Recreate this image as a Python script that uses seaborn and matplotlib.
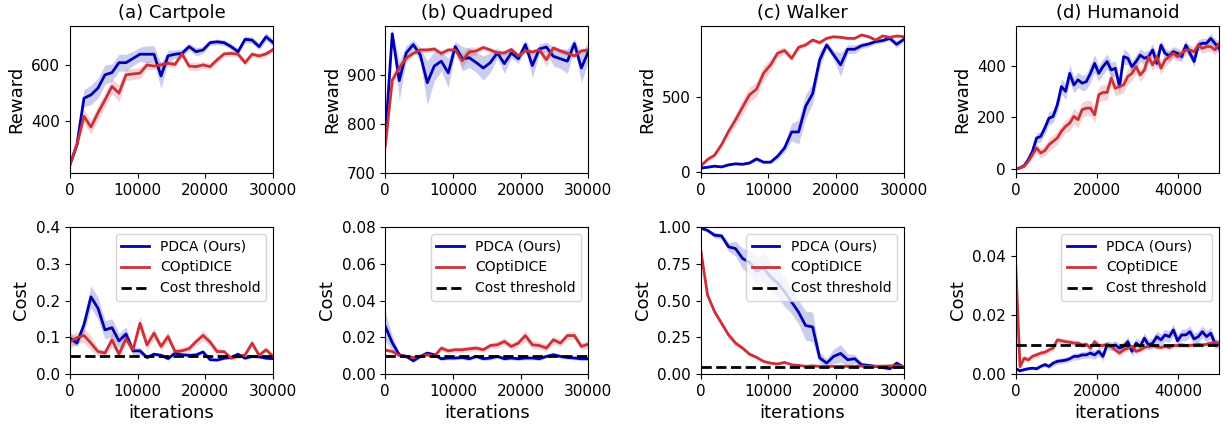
import numpy as np
import seaborn as sns
from matplotlib import pyplot as plt

plt.rcParams.update({'font.size': 11, 'font.family': 'DejaVu Sans'})

BLUE = '#0000b0'
RED = '#cc3038'

titles = ['(a) Cartpole', '(b) Quadruped', '(c) Walker', '(d) Humanoid']
x_short = np.linspace(0, 30000, 30)   # evaluation steps, 30k runs
x_long = np.linspace(0, 50000, 50)    # evaluation steps, humanoid

## REWARD (mean and band half width)
cart_r_pdca = [247, 318, 482, 494, 518, 565, 573, 608, 608, 623, 638, 638, 638, 561, 632,
               638, 641, 665, 647, 653, 679, 682, 679, 665, 647, 691, 688, 665, 700, 679]
cart_r_pdca_sd = [10, 15, 30, 35, 35, 35, 30, 30, 30, 25, 25, 30, 30, 45, 20,
                  15, 15, 12, 15, 12, 10, 10, 10, 10, 10, 12, 12, 12, 15, 12]
cart_r_copt = [247, 318, 418, 380, 430, 476, 524, 500, 565, 568, 571, 600, 596, 600, 606,
               602, 639, 596, 594, 600, 594, 618, 639, 641, 638, 608, 638, 632, 639, 655]
cart_r_copt_sd = [10, 15, 25, 25, 25, 25, 25, 30, 20, 20, 20, 15, 12, 12, 12,
                  12, 12, 15, 15, 12, 12, 12, 10, 10, 10, 12, 10, 10, 10, 10]

quad_r_pdca = [770, 985, 889, 946, 963, 942, 885, 919, 929, 905, 959, 934, 936, 926, 915,
               926, 946, 924, 946, 934, 963, 920, 954, 958, 939, 934, 929, 965, 915, 949]
quad_r_pdca_sd = [20, 10, 40, 15, 10, 15, 45, 30, 20, 30, 10, 25, 20, 20, 25,
                  20, 10, 20, 10, 10, 10, 25, 10, 10, 20, 20, 25, 10, 30, 20]
quad_r_copt = [755, 890, 915, 935, 945, 952, 952, 954, 945, 952, 952, 930, 948, 950, 957,
               952, 946, 946, 953, 940, 950, 948, 952, 932, 956, 950, 945, 940, 950, 952]
quad_r_copt_sd = [20, 15, 10, 8, 5, 5, 5, 5, 5, 5, 5, 15, 10, 8, 5,
                  5, 5, 5, 5, 5, 5, 5, 5, 15, 5, 5, 5, 5, 5, 5]

walk_r_pdca = [25, 31, 38, 33, 47, 54, 51, 60, 87, 65, 65, 105, 161, 268, 268,
               440, 525, 752, 853, 786, 719, 824, 824, 848, 859, 875, 882, 897, 857, 890]
walk_r_pdca_sd = [5, 5, 5, 5, 8, 8, 8, 10, 15, 10, 10, 20, 30, 60, 80,
                  80, 70, 60, 20, 30, 80, 30, 30, 20, 20, 15, 15, 15, 25, 15]
walk_r_copt = [38, 83, 112, 183, 272, 350, 435, 518, 556, 663, 719, 797, 815, 763, 837,
               853, 886, 868, 897, 908, 904, 897, 897, 920, 908, 886, 913, 904, 913, 908]
walk_r_copt_sd = [10, 15, 15, 20, 30, 40, 50, 50, 50, 50, 40, 30, 25, 20, 20,
                  15, 15, 15, 10, 10, 10, 10, 10, 10, 10, 10, 10, 10, 10, 10]

hum_r_pdca = [0, 4, 13, 36, 68, 120, 126, 159, 197, 204, 249, 320, 301, 371, 326,
              346, 333, 339, 371, 410, 371, 397, 417, 384, 391, 320, 436, 430, 397, 417,
              442, 430, 436, 462, 410, 481, 449, 439, 455, 449, 436, 481, 449, 417, 481,
              488, 488, 507, 488, 468]
hum_r_pdca_sd = [3, 4, 6, 10, 15, 20, 20, 25, 25, 25, 30, 30, 30, 35, 30,
                 30, 30, 30, 35, 35, 30, 30, 30, 30, 30, 30, 30, 25, 25, 25,
                 25, 25, 25, 25, 25, 20, 20, 20, 20, 20, 20, 20, 20, 20, 20,
                 20, 20, 20, 20, 25]
hum_r_copt = [0, 4, 10, 30, 55, 81, 62, 71, 94, 107, 120, 146, 165, 178, 204,
              191, 230, 236, 236, 210, 288, 297, 297, 352, 313, 320, 326, 359, 371, 397,
              365, 384, 436, 404, 436, 391, 423, 436, 449, 436, 449, 462, 462, 455, 481,
              468, 475, 475, 462, 485]
hum_r_copt_sd = [3, 4, 6, 10, 15, 20, 20, 20, 25, 25, 25, 25, 25, 30, 30,
                 30, 30, 30, 30, 30, 30, 30, 30, 30, 30, 30, 30, 30, 30, 25,
                 25, 25, 25, 25, 25, 25, 25, 25, 20, 20, 20, 20, 20, 20, 20,
                 20, 20, 20, 20, 20]

## COST
cart_c_pdca = [0.098, 0.084, 0.134, 0.210, 0.179, 0.120, 0.126, 0.090, 0.109, 0.063,
               0.063, 0.045, 0.054, 0.051, 0.042, 0.057, 0.052, 0.051, 0.052, 0.060,
               0.039, 0.038, 0.043, 0.045, 0.054, 0.043, 0.048, 0.047, 0.043, 0.042]
cart_c_pdca_sd = [0.015, 0.01, 0.02, 0.03, 0.03, 0.025, 0.025, 0.02, 0.02, 0.01,
                  0.01, 0.005, 0.005, 0.005, 0.005, 0.005, 0.005, 0.005, 0.005, 0.005,
                  0.004, 0.004, 0.004, 0.004, 0.005, 0.004, 0.004, 0.004, 0.004, 0.004]
cart_c_copt = [0.088, 0.099, 0.105, 0.084, 0.061, 0.057, 0.093, 0.054, 0.096, 0.066,
               0.138, 0.079, 0.111, 0.075, 0.102, 0.061, 0.063, 0.069, 0.088, 0.105,
               0.087, 0.061, 0.061, 0.043, 0.048, 0.052, 0.084, 0.051, 0.066, 0.048]
cart_c_copt_sd = [0.02, 0.015, 0.02, 0.02, 0.01, 0.01, 0.02, 0.01, 0.015, 0.01,
                  0.02, 0.015, 0.015, 0.01, 0.015, 0.01, 0.01, 0.01, 0.01, 0.015,
                  0.01, 0.01, 0.005, 0.005, 0.005, 0.005, 0.01, 0.005, 0.008, 0.005]

quad_c_pdca = [0.026, 0.017, 0.0105, 0.0096, 0.0072, 0.0096, 0.0114, 0.0105, 0.0083, 0.0087,
               0.0087, 0.009, 0.0083, 0.0096, 0.0083, 0.0087, 0.0096, 0.0083, 0.0087, 0.0083,
               0.0087, 0.0087, 0.0083, 0.0096, 0.0105, 0.0096, 0.009, 0.0087, 0.0083, 0.0083]
quad_c_pdca_sd = [0.008, 0.004, 0.001, 0.001, 0.001, 0.001, 0.001, 0.001, 0.001, 0.001,
                  0.001, 0.001, 0.001, 0.001, 0.001, 0.001, 0.001, 0.001, 0.001, 0.001,
                  0.001, 0.001, 0.001, 0.001, 0.001, 0.001, 0.001, 0.001, 0.001, 0.001]
quad_c_copt = [0.013, 0.0123, 0.0101, 0.0096, 0.009, 0.0096, 0.0105, 0.0096, 0.0141, 0.0126,
               0.0132, 0.0132, 0.0137, 0.0141, 0.0132, 0.0155, 0.0159, 0.0177, 0.015, 0.0168,
               0.0209, 0.0159, 0.0155, 0.0141, 0.0186, 0.0168, 0.0209, 0.0209, 0.015, 0.0163]
quad_c_copt_sd = [0.001, 0.001, 0.001, 0.001, 0.001, 0.001, 0.001, 0.001, 0.0015, 0.0015,
                  0.0015, 0.0015, 0.0015, 0.0015, 0.0015, 0.0015, 0.002, 0.002, 0.002, 0.002,
                  0.003, 0.002, 0.002, 0.002, 0.002, 0.002, 0.002, 0.002, 0.002, 0.002]

walk_c_pdca = [0.993, 0.977, 0.944, 0.939, 0.865, 0.853, 0.786, 0.76, 0.70, 0.72,
               0.66, 0.62, 0.56, 0.49, 0.42, 0.33, 0.32, 0.11, 0.074, 0.12,
               0.14, 0.097, 0.104, 0.063, 0.059, 0.052, 0.045, 0.036, 0.074, 0.045]
walk_c_pdca_sd = [0.01, 0.01, 0.02, 0.02, 0.03, 0.05, 0.07, 0.08, 0.09, 0.1,
                  0.1, 0.1, 0.1, 0.08, 0.08, 0.1, 0.1, 0.04, 0.03, 0.05,
                  0.06, 0.04, 0.03, 0.015, 0.01, 0.01, 0.01, 0.01, 0.02, 0.01]
walk_c_copt = [0.853, 0.537, 0.424, 0.345, 0.266, 0.21, 0.176, 0.135, 0.113, 0.086,
               0.074, 0.068, 0.079, 0.063, 0.059, 0.052, 0.056, 0.052, 0.052, 0.052,
               0.053, 0.052, 0.053, 0.054, 0.052, 0.053, 0.054, 0.055, 0.056, 0.052]
walk_c_copt_sd = [0.01, 0.02, 0.02, 0.02, 0.02, 0.02, 0.015, 0.015, 0.01, 0.01,
                  0.01, 0.005, 0.005, 0.005, 0.005, 0.005, 0.005, 0.005, 0.005, 0.005,
                  0.005, 0.005, 0.005, 0.005, 0.005, 0.005, 0.005, 0.005, 0.005, 0.005]

hum_c_pdca = [0.0018, 0.0011, 0.0015, 0.0018, 0.002, 0.0018, 0.0026, 0.0032, 0.0026, 0.0037,
              0.0043, 0.0045, 0.0047, 0.0052, 0.006, 0.006, 0.0065, 0.0065, 0.0071, 0.0065,
              0.0077, 0.006, 0.0099, 0.0094, 0.0099, 0.0088, 0.0094, 0.011, 0.0077, 0.0105,
              0.0094, 0.0122, 0.0099, 0.0105, 0.0127, 0.0116, 0.0133, 0.0127, 0.015, 0.0113,
              0.0133, 0.0133, 0.0144, 0.0119, 0.0127, 0.0144, 0.0127, 0.0139, 0.0105, 0.0101]
hum_c_pdca_sd = [0.0005, 0.0005, 0.0005, 0.0005, 0.0005, 0.0006, 0.0006, 0.0008, 0.0008, 0.001,
                 0.001, 0.001, 0.001, 0.001, 0.0012, 0.0012, 0.0012, 0.0012, 0.0015, 0.0015,
                 0.0015, 0.0015, 0.0015, 0.0015, 0.0015, 0.0015, 0.0015, 0.0018, 0.0018, 0.0018,
                 0.0018, 0.0018, 0.0018, 0.0018, 0.002, 0.002, 0.002, 0.002, 0.002, 0.002,
                 0.002, 0.002, 0.002, 0.002, 0.002, 0.002, 0.002, 0.002, 0.0018, 0.0015]
hum_c_copt = [0.0364, 0.0025, 0.0054, 0.0048, 0.006, 0.0065, 0.0071, 0.0074, 0.0082, 0.0088,
              0.0116, 0.0113, 0.011, 0.0108, 0.0105, 0.0105, 0.0099, 0.0101, 0.0088, 0.011,
              0.0097, 0.0097, 0.0101, 0.0094, 0.0082, 0.0071, 0.0082, 0.0088, 0.0094, 0.0077,
              0.0082, 0.009, 0.0094, 0.0097, 0.0092, 0.009, 0.0094, 0.009, 0.0097, 0.0097,
              0.0099, 0.0097, 0.0097, 0.0099, 0.0101, 0.0099, 0.0101, 0.0105, 0.0108, 0.0105]
hum_c_copt_sd = [0.001, 0.0008, 0.001, 0.001, 0.001, 0.001, 0.001, 0.001, 0.001, 0.001,
                 0.001, 0.001, 0.001, 0.001, 0.001, 0.001, 0.001, 0.001, 0.001, 0.001,
                 0.001, 0.001, 0.001, 0.001, 0.001, 0.001, 0.001, 0.001, 0.001, 0.001,
                 0.0008, 0.0008, 0.0008, 0.0008, 0.0008, 0.0008, 0.0008, 0.0008, 0.0008, 0.0008,
                 0.0008, 0.0008, 0.0008, 0.0008, 0.0008, 0.0008, 0.0008, 0.0008, 0.0008, 0.0008]

thresholds = [0.05, 0.01, 0.05, 0.01]

reward_sets = [(x_short, cart_r_pdca, cart_r_pdca_sd, cart_r_copt, cart_r_copt_sd),
               (x_short, quad_r_pdca, quad_r_pdca_sd, quad_r_copt, quad_r_copt_sd),
               (x_short, walk_r_pdca, walk_r_pdca_sd, walk_r_copt, walk_r_copt_sd),
               (x_long, hum_r_pdca, hum_r_pdca_sd, hum_r_copt, hum_r_copt_sd)]
cost_sets = [(x_short, cart_c_pdca, cart_c_pdca_sd, cart_c_copt, cart_c_copt_sd),
             (x_short, quad_c_pdca, quad_c_pdca_sd, quad_c_copt, quad_c_copt_sd),
             (x_short, walk_c_pdca, walk_c_pdca_sd, walk_c_copt, walk_c_copt_sd),
             (x_long, hum_c_pdca, hum_c_pdca_sd, hum_c_copt, hum_c_copt_sd)]

reward_lims = [(217, 738), (700, 1001), (-8, 980), (-16, 555)]
reward_ticks = [[400, 600], [700, 800, 900], [0, 500], [0, 200, 400]]
cost_lims = [(0, 0.4), (0, 0.08), (0, 1.0), (0, 0.05)]
cost_ticks = [[0.0, 0.1, 0.2, 0.3, 0.4], [0.0, 0.02, 0.04, 0.06, 0.08],
              [0.0, 0.25, 0.5, 0.75, 1.0], [0.0, 0.02, 0.04]]
cost_fmt = ['%.1f', '%.2f', '%.2f', '%.2f']


def draw(ax, x, m1, s1, m2, s2, legend=False):
    m1, s1, m2, s2 = map(np.asarray, (m1, s1, m2, s2))
    ax.fill_between(x, m1 - s1, m1 + s1, color=BLUE, alpha=0.2, lw=0)
    ax.fill_between(x, m2 - s2, m2 + s2, color=RED, alpha=0.2, lw=0)
    sns.lineplot(x=x, y=m1, ax=ax, color=BLUE, lw=2, label='PDCA (Ours)' if legend else None)
    sns.lineplot(x=x, y=m2, ax=ax, color=RED, lw=2, label='COptiDICE' if legend else None)


fig, axes = plt.subplots(2, 4, figsize=(12.25, 4.3), dpi=100)
plt.subplots_adjust(left=0.0571, right=0.9951, top=0.9395, bottom=0.1302,
                    wspace=0.552, hspace=0.367)

for i in range(4):
    ax = axes[0, i]
    x, m1, s1, m2, s2 = reward_sets[i]
    draw(ax, x, m1, s1, m2, s2)
    ax.set_xlim(0, x[-1])
    ax.set_ylim(*reward_lims[i])
    ax.set_yticks(reward_ticks[i])
    ax.set_ylabel('Reward', fontsize=13)
    ax.set_xlabel('')
    ax.set_title(titles[i], fontsize=13)

    ax = axes[1, i]
    x, m1, s1, m2, s2 = cost_sets[i]
    draw(ax, x, m1, s1, m2, s2, legend=True)
    ax.axhline(thresholds[i], color='k', ls='--', lw=2, label='Cost threshold')
    ax.set_xlim(0, x[-1])
    ax.set_ylim(*cost_lims[i])
    ax.set_yticks(cost_ticks[i])
    ax.set_yticklabels([cost_fmt[i] % t for t in cost_ticks[i]])
    ax.set_ylabel('Cost', fontsize=13)
    ax.set_xlabel('iterations', fontsize=13)
    ax.legend(loc='upper right', fontsize=10)

for ax in axes.flat:
    if ax.get_xlim()[1] > 40000:
        ax.set_xticks([0, 20000, 40000])
    else:
        ax.set_xticks([0, 10000, 20000, 30000])
    ax.tick_params(labelsize=11)

fig.savefig('out.png', dpi=100)
